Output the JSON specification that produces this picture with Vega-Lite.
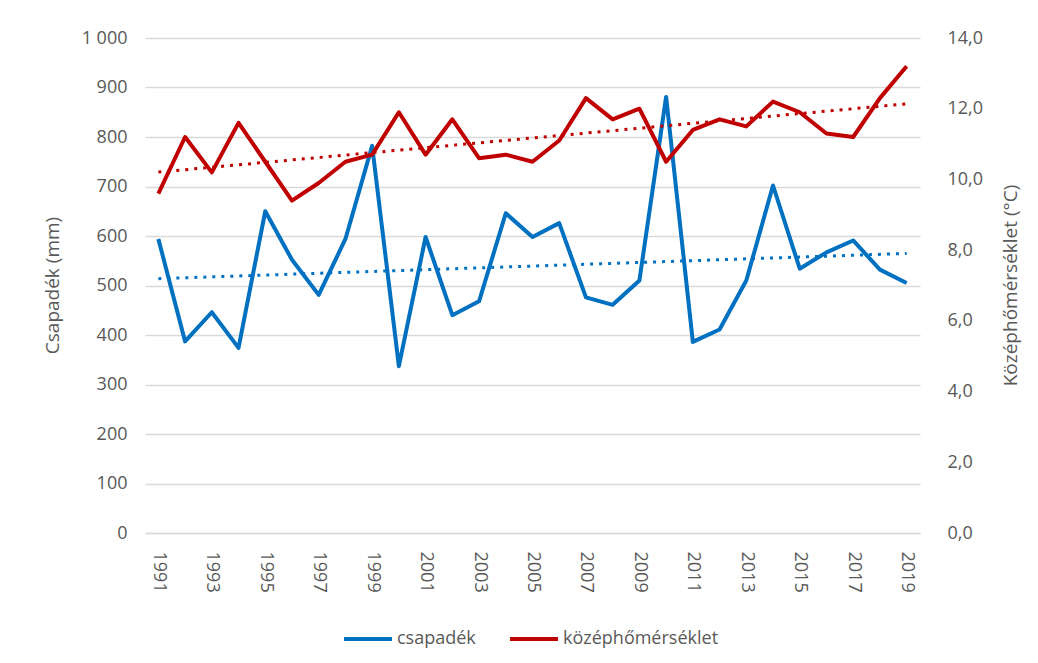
{
  "$schema": "https://vega.github.io/schema/vega-lite/v6.json",
  "width": 775,
  "height": 495,
  "autosize": "none",
  "padding": {"left": 145, "top": 38, "right": 118, "bottom": 130},
  "background": "#ffffff",
  "data": {
    "values": [
      {"year": 1991, "csapadek": 594, "homerseklet": 9.6},
      {"year": 1992, "csapadek": 387, "homerseklet": 11.2},
      {"year": 1993, "csapadek": 446, "homerseklet": 10.2},
      {"year": 1994, "csapadek": 374, "homerseklet": 11.6},
      {"year": 1995, "csapadek": 650, "homerseklet": 10.5},
      {"year": 1996, "csapadek": 552, "homerseklet": 9.4},
      {"year": 1997, "csapadek": 481, "homerseklet": 9.9},
      {"year": 1998, "csapadek": 594, "homerseklet": 10.5},
      {"year": 1999, "csapadek": 782, "homerseklet": 10.7},
      {"year": 2000, "csapadek": 337, "homerseklet": 11.9},
      {"year": 2001, "csapadek": 598, "homerseklet": 10.7},
      {"year": 2002, "csapadek": 440, "homerseklet": 11.7},
      {"year": 2003, "csapadek": 468, "homerseklet": 10.6},
      {"year": 2004, "csapadek": 646, "homerseklet": 10.7},
      {"year": 2005, "csapadek": 598, "homerseklet": 10.5},
      {"year": 2006, "csapadek": 626, "homerseklet": 11.1},
      {"year": 2007, "csapadek": 476, "homerseklet": 12.3},
      {"year": 2008, "csapadek": 461, "homerseklet": 11.7},
      {"year": 2009, "csapadek": 510, "homerseklet": 12.0},
      {"year": 2010, "csapadek": 881, "homerseklet": 10.5},
      {"year": 2011, "csapadek": 386, "homerseklet": 11.4},
      {"year": 2012, "csapadek": 411, "homerseklet": 11.7},
      {"year": 2013, "csapadek": 510, "homerseklet": 11.5},
      {"year": 2014, "csapadek": 702, "homerseklet": 12.2},
      {"year": 2015, "csapadek": 534, "homerseklet": 11.9},
      {"year": 2016, "csapadek": 567, "homerseklet": 11.3},
      {"year": 2017, "csapadek": 591, "homerseklet": 11.2},
      {"year": 2018, "csapadek": 532, "homerseklet": 12.3},
      {"year": 2019, "csapadek": 505, "homerseklet": 13.2}
    ]
  },
  "encoding": {
    "x": {
      "field": "year",
      "type": "quantitative",
      "scale": {"domain": [1990.5, 2019.5], "nice": false, "zero": false},
      "axis": {
        "title": null,
        "values": [1991, 1993, 1995, 1997, 1999, 2001, 2003, 2005, 2007, 2009, 2011, 2013, 2015, 2017, 2019],
        "format": "d",
        "labelAngle": 90,
        "labelPadding": 18,
        "grid": false,
        "ticks": false,
        "domain": true,
        "domainColor": "#D9D9D9",
        "domainWidth": 1.5
      }
    }
  },
  "layer": [
    {
      "encoding": {
        "y": {
          "field": "csapadek",
          "type": "quantitative",
          "scale": {"domain": [0, 1000], "nice": false},
          "axis": {
            "orient": "left",
            "title": "Csapadék (mm)",
            "values": [0, 100, 200, 300, 400, 500, 600, 700, 800, 900, 1000],
            "labelExpr": "replace(format(datum.value, ','), ',', ' ')",
            "grid": true,
            "gridColor": "#D9D9D9",
            "gridWidth": 1.5,
            "ticks": false,
            "domain": false,
            "labelPadding": 18,
            "titleX": -93,
            "titleY": 247,
            "titleAngle": 270,
            "titleBaseline": "middle",
            "titleAlign": "center"
          }
        }
      },
      "layer": [
        {
          "mark": {"type": "line", "strokeWidth": 4, "strokeJoin": "round"},
          "encoding": {
            "color": {
              "datum": "csapadék",
              "type": "nominal",
              "scale": {"domain": ["csapadék", "középhőmérséklet"], "range": ["#0070C0", "#C00000"]},
              "legend": {
                "title": null,
                "orient": "none",
                "legendX": 197,
                "legendY": 575,
                "direction": "horizontal",
                "symbolType": "stroke",
                "symbolSize": 2304,
                "symbolStrokeWidth": 4,
                "labelOffset": 3,
                "columnPadding": 26,
                "labelFontSize": 18,
                "labelColor": "#595959"
              }
            }
          }
        },
        {
          "transform": [{"regression": "csapadek", "on": "year", "extent": [1991, 2019]}],
          "mark": {"type": "line", "color": "#0070C0", "strokeWidth": 3, "strokeDash": [3, 6]}
        }
      ]
    },
    {
      "encoding": {
        "y": {
          "field": "homerseklet",
          "type": "quantitative",
          "scale": {"domain": [0, 14], "nice": false},
          "axis": {
            "orient": "right",
            "title": "Középhőmérséklet (°C)",
            "values": [0, 2, 4, 6, 8, 10, 12, 14],
            "labelExpr": "replace(format(datum.value, '.1f'), '.', ',')",
            "grid": false,
            "ticks": false,
            "domain": false,
            "labelPadding": 27,
            "titleX": 90,
            "titleY": 247,
            "titleAngle": 270,
            "titleBaseline": "middle",
            "titleAlign": "center"
          }
        }
      },
      "layer": [
        {
          "mark": {"type": "line", "strokeWidth": 4, "strokeJoin": "round"},
          "encoding": {
            "color": {"datum": "középhőmérséklet", "type": "nominal"}
          }
        },
        {
          "transform": [{"regression": "homerseklet", "on": "year", "extent": [1991, 2019]}],
          "mark": {"type": "line", "color": "#C00000", "strokeWidth": 3, "strokeDash": [3, 6]}
        }
      ]
    }
  ],
  "resolve": {"scale": {"y": "independent"}},
  "config": {
    "font": "Open Sans",
    "view": {"stroke": null},
    "axis": {
      "labelFont": "Open Sans",
      "labelFontSize": 18,
      "labelColor": "#595959",
      "titleFont": "Open Sans",
      "titleFontSize": 19,
      "titleFontWeight": "normal",
      "titleColor": "#595959"
    },
    "legend": {"labelFont": "Open Sans"}
  }
}
